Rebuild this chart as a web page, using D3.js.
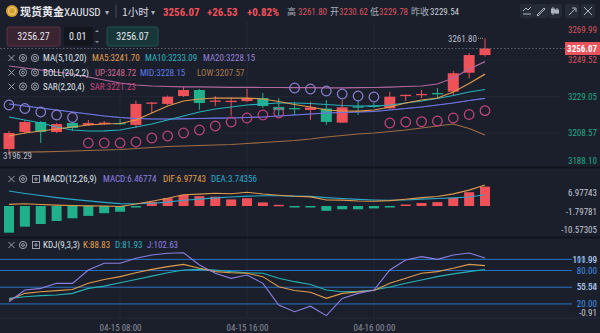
<!DOCTYPE html>
<html><head><meta charset="utf-8">
<script src="https://cdn.jsdelivr.net/npm/d3@7"></script>
<style>
html,body{margin:0;padding:0;background:#1b1f2c;overflow:hidden;}
svg{display:block;}
</style></head><body>
<svg id="c" width="600" height="333"></svg>
<script>
// ---------- DATA ----------
const times = ["04-15 01:00","04-15 02:00","04-15 03:00","04-15 04:00","04-15 05:00","04-15 06:00","04-15 07:00","04-15 08:00","04-15 09:00","04-15 10:00","04-15 11:00","04-15 12:00","04-15 13:00","04-15 14:00","04-15 15:00","04-15 16:00","04-15 17:00","04-15 18:00","04-15 19:00","04-15 20:00","04-15 21:00","04-15 22:00","04-15 23:00","04-16 00:00","04-16 01:00","04-16 02:00","04-16 03:00","04-16 04:00","04-16 05:00","04-16 06:00","04-16 07:00"];
const open  = [3199.70,3209.25,3214.86,3209.25,3214.30,3213.20,3213.70,3214.30,3213.20,3225.50,3225.00,3229.40,3232.80,3226.60,3226.50,3226.60,3228.30,3223.30,3222.70,3221.60,3222.40,3214.50,3223.60,3224.10,3222.50,3229.70,3230.30,3231.10,3231.90,3242.50,3252.40];
const high  = [3209.80,3216.00,3215.40,3214.30,3214.90,3216.00,3215.40,3216.50,3226.80,3226.10,3229.70,3234.50,3233.40,3229.40,3228.50,3233.40,3231.10,3228.30,3226.20,3226.20,3227.20,3227.20,3227.20,3225.50,3231.80,3230.30,3232.80,3233.90,3243.50,3253.50,3261.80];
const low   = [3196.29,3208.10,3203.10,3208.70,3209.80,3212.60,3213.20,3213.20,3211.50,3219.90,3224.40,3228.90,3221.60,3223.80,3218.50,3226.10,3222.70,3218.20,3218.80,3216.00,3213.20,3214.30,3218.80,3222.70,3222.20,3226.80,3228.30,3228.30,3230.00,3239.40,3251.50];
const close = [3208.69,3214.86,3209.25,3213.70,3211.50,3214.30,3214.50,3213.90,3225.00,3225.80,3229.05,3232.80,3225.50,3226.90,3226.75,3228.30,3223.80,3221.60,3222.40,3223.00,3214.90,3223.10,3223.30,3223.60,3229.05,3230.10,3230.60,3230.80,3242.20,3252.40,3256.07];
const ma5   = [3207.01,3208.69,3209.81,3210.93,3212.05,3213.18,3213.74,3214.02,3215.98,3219.91,3223.83,3226.64,3227.76,3228.32,3228.30,3228.30,3227.76,3226.36,3224.67,3223.27,3221.59,3221.03,3221.00,3221.59,3223.27,3225.52,3227.20,3228.32,3231.69,3236.45,3241.70];
const ma10  = [3217.66,3215.98,3214.30,3212.05,3210.37,3209.81,3209.90,3210.37,3212.05,3213.74,3215.98,3218.22,3220.47,3222.15,3223.27,3224.39,3224.96,3225.52,3225.50,3225.24,3224.67,3224.11,3223.83,3223.80,3224.39,3225.52,3226.64,3228.04,3229.72,3231.69,3233.09];
const bollMid = [3224.96,3223.83,3222.71,3221.59,3220.47,3219.35,3218.22,3217.38,3216.82,3216.54,3216.54,3216.65,3216.82,3216.99,3217.10,3217.38,3217.66,3218.22,3218.79,3219.35,3219.91,3220.19,3220.47,3220.75,3221.59,3222.43,3223.27,3224.39,3225.52,3226.92,3228.15];
const bollUp  = [3246.27,3245.15,3244.03,3242.90,3241.78,3240.10,3238.42,3236.73,3235.61,3235.05,3234.77,3234.60,3234.50,3234.40,3234.30,3234.30,3234.20,3234.20,3234.10,3234.10,3234.00,3234.00,3234.10,3234.20,3234.40,3234.77,3235.05,3236.17,3239.54,3244.59,3248.72];
const bollLow = [3198.03,3198.03,3198.10,3198.31,3198.59,3198.87,3199.15,3199.43,3200.00,3200.56,3201.12,3201.40,3201.68,3201.96,3202.24,3202.80,3203.36,3203.92,3204.48,3205.32,3206.45,3207.29,3208.13,3208.69,3209.53,3210.37,3211.49,3212.61,3213.74,3211.21,3207.57];
const sar     = [3224.39,3222.43,3220.47,3218.79,3217.38,3203.10,3203.10,3203.10,3203.64,3205.88,3207.01,3208.69,3210.37,3212.62,3214.86,3217.10,3218.79,3219.91,3233.93,3233.37,3232.25,3230.56,3229.44,3228.88,3214.30,3214.86,3215.03,3215.42,3217.10,3219.07,3221.23];
const macdHist = [-8.9,-6.9,-6.0,-5.0,-4.1,-3.3,-2.4,-1.9,-0.2,1.4,2.6,3.7,3.3,3.1,2.2,2.6,1.2,0.4,-0.1,-0.3,-1.6,-1.1,-1.1,-0.8,-0.2,0.5,1.0,1.3,2.7,4.6,6.46774];
const dif = [0.55,0.75,0.5,0.3,0.15,0.05,0.0,-0.15,0.65,1.6,2.6,3.75,3.95,4.25,4.1,4.6,4.0,3.6,3.25,3.05,2.0,1.95,1.65,1.6,1.8,2.25,2.8,3.15,4.05,5.3,6.97743];
const dea = [5.0,4.2,3.5,2.8,2.2,1.7,1.2,0.8,0.75,0.9,1.3,1.9,2.3,2.7,3.0,3.3,3.4,3.4,3.3,3.2,2.8,2.5,2.2,2.0,1.9,2.0,2.3,2.5,2.7,3.0,3.74356];
const kVals = [27,39,42,44,46,57,64,69,76,82,87,91,84,78,76,75,69,51,44,41,30,39,41.5,44,57,66,75,78,84,91,88.83];
const dVals = [30,33,35,36,39,48,52,58,64,70,76,81,82,81,78,76,75,66,60,55,45,42,42.5,45,50.5,57,63,69,74,78,81.93];
const jVals = [24,45,48,57,57,81,93,93,102,108,111,111.99,90,75,66,72,57,18,6,16,-0.91,30,39,45,81,99,105,100,108,111.5,102.63];
const priceTicks = [3269.99,3249.52,3229.05,3208.57,3188.10];
const macdTicks = [6.97743,-1.79781,-10.57305];
const kdjLevels = [100,80,50,20];
const kdjExtremes = [111.99,55.54,-0.91];
const xTicks = ["04-15 08:00","04-15 16:00","04-16 00:00"];
const prevClose = 3229.54, lastPrice = 3256.07, bidPrice = 3256.27;
const change = "+26.53", changePct = "+0.82%";
const dayHigh = "3261.80", dayOpen = "3230.62", dayLow = "3229.78", prevCloseTxt = "3229.54";

// ---------- SETUP ----------
const F = '"Liberation Sans Narrow","Roboto Condensed","Roboto","Noto Sans",sans-serif';
const FC = '"Noto Sans CJK SC","Noto Sans",sans-serif';
const BG = '#1b1f2c', RED = '#ef5159', GREEN = '#20b08c';
const C_MA5 = '#e09a4c', C_MA10 = '#27b1bd', C_MA20 = '#8f78dc', C_UP = '#b2689f', C_MID = '#4f6fe0', C_LOW = '#9c6d45';
const LS = 9; // legend font size
const AS = 9; // axis font size
const svg = d3.select('#c');
svg.append('rect').attr('width',600).attr('height',333).attr('fill',BG);

const x = d3.scalePoint().domain(times).range([9,485]);
const yP = d3.scaleLinear().domain([3188.10,3269.99]).range([169.7,23.7]);
const yM = d3.scaleLinear().domain([-10.57305,6.97743]).range([237.7,185.1]);
const yK = d3.scaleLinear().domain([-0.91,111.99]).range([315.6,252.7]);

function T(px,py,s,o={}){
  return svg.append('text').attr('x',px).attr('y',py).attr('dy','0.35em')
    .attr('fill',o.fill||'#d9dde5').attr('font-size',o.size||LS)
    .attr('font-family',o.font||F).attr('font-weight',o.weight||'normal')
    .attr('text-anchor',o.anchor||'start').text(s);
}

// ---------- GRID / SEPARATORS ----------
const grid = svg.append('g');
grid.selectAll('line.v').data(xTicks).join('line')
  .attr('x1',d=>x(d)).attr('x2',d=>x(d)).attr('y1',22).attr('y2',318)
  .attr('stroke','#252a38').attr('stroke-width',1);
grid.selectAll('line.h').data(priceTicks.slice(1,4)).join('line')
  .attr('x1',0).attr('x2',560).attr('y1',d=>yP(d)).attr('y2',d=>yP(d))
  .attr('stroke','#222735').attr('stroke-width',1);
[167.5,237.5].forEach(yy=>svg.append('line').attr('x1',0).attr('x2',600).attr('y1',yy).attr('y2',yy).attr('stroke','#0f1219').attr('stroke-width',1.6));
svg.append('line').attr('x1',0).attr('x2',600).attr('y1',318).attr('y2',318).attr('stroke','#262b37').attr('stroke-width',1);

// ---------- HEADER ----------
svg.append('circle').attr('cx',12).attr('cy',11).attr('r',6).attr('fill','#d4a135');
svg.append('circle').attr('cx',12).attr('cy',11).attr('r',3.6).attr('fill','none').attr('stroke','#f5d37a').attr('stroke-width',1);
T(20,12,'现货黄金',{font:FC,size:11,fill:'#e6e8ec',weight:'bold'});
T(64,12,'XAUUSD',{size:11,fill:'#e6e8ec'});
T(105,12,'▾',{size:8,fill:'#aab0bb'});
svg.append('line').attr('x1',116).attr('x2',116).attr('y1',5).attr('y2',18).attr('stroke','#4a4f5c');
T(122,12,'1小时',{font:FC,size:10.5,fill:'#d9dde5'});
T(151,12,'▾',{size:8,fill:'#aab0bb'});
T(163,12,lastPrice.toFixed(2),{size:11,fill:RED,weight:'bold'});
T(207,12,change,{size:11,fill:RED,weight:'bold'});
T(247,12,changePct,{size:11,fill:RED,weight:'bold'});
T(287,12,'高',{font:FC,size:9,fill:'#a9afba'});
T(298,12,dayHigh,{size:9,fill:'#d9545c'});
T(330,12,'开',{font:FC,size:9,fill:'#a9afba'});
T(339,12,dayOpen,{size:9,fill:'#d9545c'});
T(370,12,'低',{font:FC,size:9,fill:'#a9afba'});
T(379,12,dayLow,{size:9,fill:'#d9545c'});
T(411,12,'昨收',{font:FC,size:9,fill:'#a9afba'});
T(430,12,prevCloseTxt,{size:9,fill:'#c9cdd5'});
[527,541,555,572,588].forEach((cx,i)=>{
  svg.append('rect').attr('x',cx-7).attr('y',4).attr('width',14).attr('height',14).attr('rx',2).attr('fill','#262b38');
  const g = svg.append('g').attr('stroke','#aeb4bf').attr('stroke-width',1).attr('fill','none');
  if(i===0){g.append('path').attr('d',`M${cx-4},${14}L${cx+4},${14}M${cx-4},${11}L${cx-1},${8}L${cx+1},${10}L${cx+4},${7}`);}
  if(i===1){g.append('path').attr('d',`M${cx-4},${15}L${cx+3},${8}L${cx+4},${9}L${cx-3},${16}Z`);}
  if(i===2){g.append('path').attr('d',`M${cx-2},${7}L${cx-2},${15}M${cx+2},${8}L${cx+2},${14}`);g.append('rect').attr('x',cx-3.5).attr('y',9).attr('width',3).attr('height',4).attr('fill','#aeb4bf');g.append('rect').attr('x',cx+0.5).attr('y',10).attr('width',3).attr('height',3).attr('fill','#aeb4bf');}
  if(i===3){g.append('path').attr('d',`M${cx-3},${15}L${cx+3},${9}M${cx},${8}L${cx+4},${8}L${cx+4},${12}`);}
  if(i===4){g.append('path').attr('d',`M${cx-4},${7}L${cx+4},${15}M${cx+4},${7}L${cx-4},${15}`);}
});

// order row
svg.append('rect').attr('x',7).attr('y',27).attr('width',53).attr('height',19).attr('rx',2).attr('fill','#3a2431').attr('stroke','#5b3343');
T(33.5,36.5,bidPrice.toFixed(2),{anchor:'middle',size:10,fill:'#e4e6ea'});
svg.append('rect').attr('x',64).attr('y',27).attr('width',29).attr('height',19).attr('rx',2).attr('fill','#13161d');
T(69,36.5,'0.01',{size:10,fill:'#e4e6ea'});
svg.append('path').attr('d','M95,32L97,30L99,32Z M95,41L97,43L99,41Z').attr('fill','#8d939e');
svg.append('rect').attr('x',107).attr('y',27).attr('width',51).attr('height',19).attr('rx',2).attr('fill','#17373a').attr('stroke','#235650');
T(132.5,36.5,lastPrice.toFixed(2),{anchor:'middle',size:10,fill:'#e4e6ea'});

// ---------- MAIN PANE ----------
const lineP = arr => d3.line().x((d,i)=>x(times[i])).y(d=>yP(d))(arr);
const candles = times.map((t,i)=>({t,o:open[i],h:high[i],l:low[i],c:close[i]}));
const cg = svg.append('g');
const col = d => d.c>=d.o?RED:GREEN;
cg.selectAll('line').data(candles).join('line')
  .attr('x1',d=>x(d.t)).attr('x2',d=>x(d.t)).attr('y1',d=>yP(d.h)).attr('y2',d=>yP(d.l))
  .attr('stroke',col).attr('stroke-width',1);
cg.selectAll('rect').data(candles).join('rect')
  .attr('x',d=>x(d.t)-5.5).attr('width',11)
  .attr('y',d=>yP(Math.max(d.o,d.c))).attr('height',d=>Math.max(1.3,Math.abs(yP(d.o)-yP(d.c))))
  .attr('fill',col);

[[bollUp,C_UP],[bollLow,C_LOW],[bollMid,C_MID],[bollMid,C_MA20],[ma10,C_MA10],[ma5,C_MA5]].forEach(([arr,c],k)=>{
  svg.append('path').attr('d',lineP(arr)).attr('fill','none').attr('stroke',c)
    .attr('stroke-width',k===3?0.8:1.2).attr('stroke-opacity',k===3?0.7:1);
});
svg.append('g').selectAll('circle').data(sar).join('circle')
  .attr('cx',(d,i)=>x(times[i])).attr('cy',d=>yP(d)).attr('r',4.8)
  .attr('fill','none').attr('stroke-width',1.2)
  .attr('stroke',(d,i)=>d>close[i]?'#8e7fd2':'#c8447d');

// last price line & marker
svg.append('line').attr('x1',0).attr('x2',565).attr('y1',yP(lastPrice)).attr('y2',yP(lastPrice))
  .attr('stroke','#6f7580').attr('stroke-dasharray','1.5,2').attr('stroke-width',0.8);
const hi = d3.max(high), hiIdx = high.indexOf(hi);
T(x(times[hiIdx])-8,yP(hi)+1,hi.toFixed(2),{anchor:'end',size:AS,fill:'#b9bec8'});
svg.append('line').attr('x1',x(times[hiIdx])-7).attr('x2',x(times[hiIdx])-1).attr('y1',yP(hi)).attr('y2',yP(hi))
  .attr('stroke','#9aa0aa').attr('stroke-dasharray','1,1');
const lo = d3.min(low), loIdx = low.indexOf(lo);
T(x(times[loIdx])-6,yP(lo)+1,lo.toFixed(2),{size:AS,fill:'#b9bec8'});

// price axis labels
priceTicks.forEach(v=>{
  const yy = Math.max(30,Math.min(161,yP(v)));
  T(597,yy,v.toFixed(2),{anchor:'end',size:AS,fill:v>prevClose?'#d8525a':'#22a986'});
});
svg.append('rect').attr('x',565).attr('y',yP(lastPrice)-6.5).attr('width',35).attr('height',13).attr('fill','#e9535b');
T(597,yP(lastPrice),lastPrice.toFixed(2),{anchor:'end',size:AS,fill:'#ffffff',weight:'bold'});

// legend icons
function icons(yy,box){
  const g = svg.append('g').attr('stroke','#9ba1ac').attr('fill','none').attr('stroke-width',1);
  g.append('path').attr('d',`M${8.5},${yy-3}L${14.5},${yy+3}M${14.5},${yy-3}L${8.5},${yy+3}`);
  g.append('circle').attr('cx',23).attr('cy',yy).attr('r',3.6);
  g.append('circle').attr('cx',23).attr('cy',yy).attr('r',1.4);
  if(box){
    g.append('rect').attr('x',32.5).attr('y',yy-3.5).attr('width',7).attr('height',7);
    g.append('path').attr('d',`M${36},${yy-2}L${36},${yy+2}M${34},${yy}L${38},${yy}`);
  } else {
    g.append('circle').attr('cx',35).attr('cy',yy).attr('r',3.6);
    g.append('circle').attr('cx',35).attr('cy',yy).attr('r',1.6);
  }
}
const L = a => a[a.length-1].toFixed(2);
icons(58,false);
T(43,58,'MA(5,10,20)',{fill:'#dfe2e8'});
T(92,58,'MA5:'+L(ma5),{fill:'#e3a04f'});
T(145,58,'MA10:'+L(ma10),{fill:'#2bb3bf'});
T(203,58,'MA20:'+L(bollMid),{fill:'#9580db'});
icons(72.5,false);
T(43,72.5,'BOLL(20,2,2)',{fill:'#dfe2e8'});
T(95,72.5,'UP:'+L(bollUp),{fill:'#cf6a94'});
T(140,72.5,'MID:'+L(bollMid),{fill:'#5b7ae6'});
T(197,72.5,'LOW:'+L(bollLow),{fill:'#a87a4e'});
icons(86.5,false);
T(43,86.5,'SAR(2,20,4)',{fill:'#dfe2e8'});
T(90,86.5,'SAR:'+L(sar),{fill:'#c9457f'});

// ---------- MACD ----------
svg.append('g').selectAll('rect').data(macdHist).join('rect')
  .attr('x',(d,i)=>x(times[i])-5).attr('width',10)
  .attr('y',d=>Math.min(yM(d),yM(0))).attr('height',d=>Math.max(1.5,Math.abs(yM(d)-yM(0))))
  .attr('fill',d=>d>=0?RED:GREEN);
const lineM = arr => d3.line().x((d,i)=>x(times[i])).y(d=>yM(d))(arr);
svg.append('path').attr('d',lineM(dea)).attr('fill','none').attr('stroke','#2aa7c9').attr('stroke-width',1.1);
svg.append('path').attr('d',lineM(dif)).attr('fill','none').attr('stroke','#e09a4c').attr('stroke-width',1.1);
macdTicks.forEach(v=>{
  const yy = Math.max(192.7,Math.min(230,yM(v)));
  T(597,yy,v.toFixed(5),{anchor:'end',size:AS,fill:'#c3c7cf'});
});
icons(179,true);
T(43,179,'MACD(12,26,9)',{fill:'#dfe2e8'});
T(103,179,'MACD:'+macdHist[macdHist.length-1].toFixed(5),{fill:'#8c7fe0'});
T(163,179,'DIF:'+dif[dif.length-1].toFixed(5),{fill:'#e3a04f'});
T(211,179,'DEA:'+dea[dea.length-1].toFixed(5),{fill:'#2ba9cc'});

// ---------- KDJ ----------
svg.append('g').selectAll('line').data(kdjLevels).join('line')
  .attr('x1',0).attr('x2',572).attr('y1',d=>yK(d)).attr('y2',d=>yK(d))
  .attr('stroke','#2a72c2').attr('stroke-width',1);
const lineK = arr => d3.line().x((d,i)=>x(times[i])).y(d=>yK(d))(arr);
svg.append('path').attr('d',lineK(dVals)).attr('fill','none').attr('stroke','#26b3b3').attr('stroke-width',1.1);
svg.append('path').attr('d',lineK(kVals)).attr('fill','none').attr('stroke','#e09a4c').attr('stroke-width',1.1);
svg.append('path').attr('d',lineK(jVals)).attr('fill','none').attr('stroke','#8c7fe0').attr('stroke-width',1.1);
kdjLevels.forEach(v=>T(597,yK(v),v.toFixed(2),{anchor:'end',size:AS,fill:'#3f90e2'}));
kdjExtremes.forEach(v=>{
  const yy = Math.max(259.4,Math.min(312.5,yK(v)+(v>50&&v<60?2.5:0)));
  T(597,yy,v.toFixed(2),{anchor:'end',size:AS,fill:'#c8ccd4'});
});
icons(245,true);
T(43,245,'KDJ(9,3,3)',{fill:'#dfe2e8'});
T(83,245,'K:'+L(kVals),{fill:'#e3a04f'});
T(115,245,'D:'+L(dVals),{fill:'#2bb3bf'});
T(147,245,'J:'+L(jVals),{fill:'#8c7fe0'});

// ---------- X AXIS ----------
const xa = svg.append('g').attr('transform','translate(0,318)')
  .call(d3.axisBottom(x).tickValues(xTicks).tickSize(0).tickPadding(7));
xa.select('.domain').remove();
xa.selectAll('text').attr('fill','#8a8f9b').attr('font-size',9).attr('font-family',F);
</script>
</body></html>
